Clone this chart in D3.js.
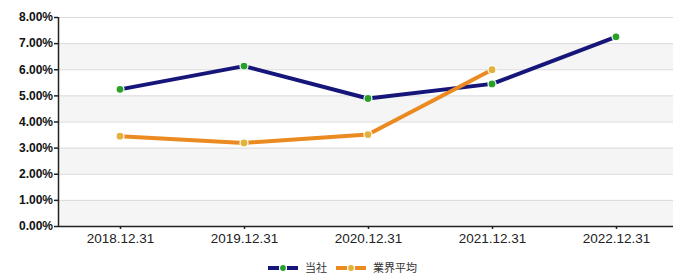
<!DOCTYPE html>
<html>
<head>
<meta charset="utf-8">
<script src="https://cdn.jsdelivr.net/npm/d3@7"></script>
<style>
  body { margin: 0; background: #fff; }
  svg { display: block; }
</style>
</head>
<body>
<div id="chart"></div>
<script>
// data
const categories = ["2018.12.31", "2019.12.31", "2020.12.31", "2021.12.31", "2022.12.31"];
const companyValues = [5.23, 6.12, 4.88, 5.44, 7.24];
const industryValues = [3.44, 3.18, 3.50, 5.98, null];
const yTicks = [0, 1, 2, 3, 4, 5, 6, 7, 8];
const seriesNames = ["当社", "業界平均"];

const width = 673, height = 277;
const plotLeft = 58, plotTop = 17, plotBottom = 226;

const svg = d3.select("#chart").append("svg")
    .attr("width", width)
    .attr("height", height);

const x = d3.scalePoint()
    .domain(categories)
    .range([plotLeft, plotLeft + 124 * 5])
    .padding(0.5);

const y = d3.scaleLinear()
    .domain([0, 8])
    .range([plotBottom, plotTop]);

// alternating bands
svg.append("g")
    .selectAll("rect")
    .data(yTicks.slice(0, -1).filter(d => d % 2 === 0))
    .join("rect")
    .attr("x", plotLeft)
    .attr("width", width - plotLeft)
    .attr("y", d => y(d + 1))
    .attr("height", d => y(d) - y(d + 1))
    .attr("fill", "#f5f5f5");

// grid lines
svg.append("g")
    .selectAll("line")
    .data(yTicks.slice(1))
    .join("line")
    .attr("x1", plotLeft)
    .attr("x2", width)
    .attr("y1", d => y(d) + 0.5)
    .attr("y2", d => y(d) + 0.5)
    .attr("stroke", "#dadada");

// axes
const yAxis = svg.append("g")
    .attr("transform", `translate(${plotLeft},0)`)
    .call(d3.axisLeft(y).tickValues(yTicks).tickSize(4).tickFormat(d => d.toFixed(2) + "%"));
yAxis.select(".domain").attr("stroke", "#222").attr("stroke-width", 1.5).attr("d", `M0.5,${plotTop}V${plotBottom}`);
yAxis.selectAll(".tick line").attr("stroke", "#222").attr("stroke-width", 1.5);
yAxis.selectAll("text")
    .attr("font-family", "Liberation Sans, Arial, sans-serif")
    .attr("font-size", 12)
    .attr("font-weight", "bold")
    .attr("fill", "#111")
    .attr("x", -5);

const xAxis = svg.append("g")
    .attr("transform", `translate(0,${plotBottom})`)
    .call(d3.axisBottom(x).tickSize(3).tickSizeOuter(0));
xAxis.select(".domain").attr("stroke", "#222").attr("stroke-width", 1.5).attr("d", `M${plotLeft},0.5H${width}`);
xAxis.selectAll(".tick line").attr("stroke", "#222").attr("stroke-width", 1.5);
xAxis.selectAll("text")
    .attr("font-family", "Liberation Sans, Arial, sans-serif")
    .attr("font-size", 13.5)
    .attr("fill", "#222")
    .attr("y", 7);

// lines
const series = [
    { name: seriesNames[0], values: companyValues, line: "#16167a", dot: "#2aa02a" },
    { name: seriesNames[1], values: industryValues, line: "#ea8a20", dot: "#e4b23a" }
];

const line = d3.line()
    .defined(d => d.v != null)
    .x(d => x(d.c))
    .y(d => y(d.v));

series.forEach(s => {
    const pts = categories.map((c, i) => ({ c: c, v: s.values[i] }));
    svg.append("path")
        .datum(pts)
        .attr("d", line)
        .attr("fill", "none")
        .attr("stroke", s.line)
        .attr("stroke-width", 4)
        .attr("stroke-linejoin", "round");
});

series.forEach(s => {
    const pts = categories.map((c, i) => ({ c: c, v: s.values[i] })).filter(d => d.v != null);
    svg.append("g")
        .selectAll("circle")
        .data(pts)
        .join("circle")
        .attr("cx", d => x(d.c))
        .attr("cy", d => y(d.v))
        .attr("r", 4)
        .attr("fill", s.dot)
        .attr("stroke", "#fff")
        .attr("stroke-width", 1.2);
});

// legend
const legend = svg.append("g").attr("transform", "translate(268,268)");
let lx = 0;
series.forEach(s => {
    const g = legend.append("g").attr("transform", `translate(${lx},0)`);
    g.append("line").attr("x1", 0).attr("x2", 30).attr("y1", 0).attr("y2", 0)
        .attr("stroke", s.line).attr("stroke-width", 4);
    g.append("circle").attr("cx", 15).attr("cy", 0).attr("r", 3.5)
        .attr("fill", s.dot).attr("stroke", "#fff").attr("stroke-width", 1.2);
    const t = g.append("text")
        .attr("x", 37).attr("y", 4)
        .attr("font-family", "Noto Sans CJK JP, sans-serif")
        .attr("font-size", 11)
        .attr("fill", "#333")
        .text(s.name);
    lx += 37 + t.node().getComputedTextLength() + 9;
});
</script>
</body>
</html>
